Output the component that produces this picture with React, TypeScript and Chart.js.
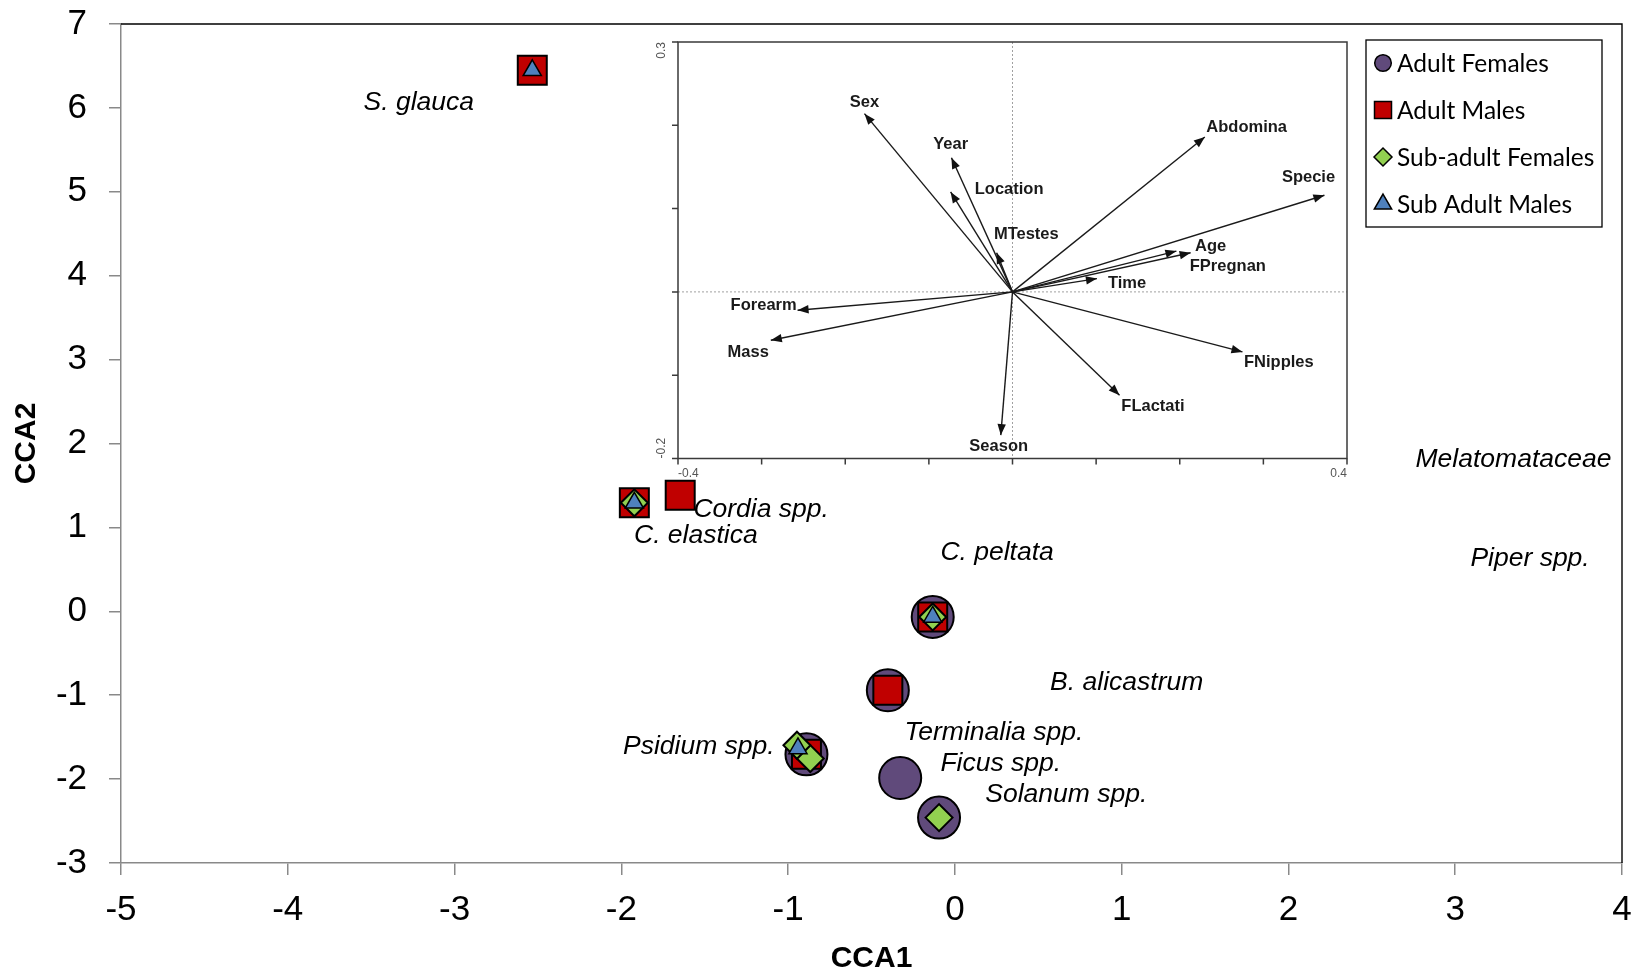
import React, { useEffect, useRef } from 'react';
import { Chart, registerables } from 'chart.js';

Chart.register(...registerables);

const FONT = "'Liberation Sans', Arial, Helvetica, sans-serif";

// ---------- main CCA ordination data ----------
const xTicks = [-5, -4, -3, -2, -1, 0, 1, 2, 3, 4];
const yTicks = [-3, -2, -1, 0, 1, 2, 3, 4, 5, 6, 7];

const seriesNames = ['Adult Females', 'Adult Males', 'Sub-adult Females', 'Sub Adult Males'];

const adultFemalesX = [-0.133, -0.402, -0.890, -0.328, -0.095];
const adultFemalesY = [-0.067, -0.941, -1.705, -1.987, -2.459];

const adultMalesX = [-2.534, -1.922, -1.647, -0.133, -0.402, -0.890];
const adultMalesY = [6.448, 1.293, 1.384, -0.067, -0.941, -1.705];

const subAdultFemalesX = [-1.922, -0.133, -0.867, -0.947, -0.095];
const subAdultFemalesY = [1.293, -0.067, -1.755, -1.597, -2.459];

const subAdultMalesX = [-2.534, -1.922, -0.133, -0.941];
const subAdultMalesY = [6.448, 1.293, -0.067, -1.635];

const speciesNames = [
  'S. glauca', 'Cordia spp.', 'C. elastica', 'C. peltata', 'Melatomataceae', 'Piper spp.',
  'B. alicastrum', 'Terminalia spp.', 'Psidium spp.', 'Ficus spp.', 'Solanum spp.',
];
const speciesLabelX = [-3.546, -1.568, -1.924, -0.087, 2.762, 3.091, 0.571, -0.302, -1.990, -0.087, 0.182];
const speciesLabelY = [6.060, 1.217, 0.907, 0.705, 1.807, 0.633, -0.845, -1.442, -1.608, -1.811, -2.181];

// ---------- inset biplot data ----------
const envVars = ['Sex', 'Year', 'Location', 'MTestes', 'Abdomina', 'Specie', 'Age', 'FPregnan', 'Time', 'Forearm', 'Mass', 'FNipples', 'FLactati', 'Season'];
const envArrowX = [-0.177, -0.073, -0.074, -0.019, 0.230, 0.373, 0.196, 0.213, 0.101, -0.257, -0.289, 0.275, 0.128, -0.014];
const envArrowY = [0.214, 0.161, 0.120, 0.047, 0.186, 0.116, 0.049, 0.047, 0.016, -0.022, -0.058, -0.072, -0.124, -0.172];
const envLabelX = [-0.177, -0.074, -0.004, 0.0165, 0.280, 0.354, 0.237, 0.2575, 0.137, -0.2976, -0.316, 0.3185, 0.168, -0.0165];
const envLabelY = [0.228, 0.177, 0.123, 0.069, 0.198, 0.137, 0.054, 0.031, 0.010, -0.016, -0.073, -0.085, -0.137, -0.186];

const insetXTicks = [-0.4, -0.3, -0.2, -0.1, 0, 0.1, 0.2, 0.3, 0.4];
const insetYTicks = [-0.2, -0.1, 0, 0.1, 0.2, 0.3];
const insetXLabelTicks = [-0.4, 0.4];
const insetYLabelTicks = [-0.2, 0.3];

const pts = (xs: number[], ys: number[]) => xs.map((x, i) => ({ x, y: ys[i] }));

function drawMarker(ctx: CanvasRenderingContext2D, style: string, x: number, y: number, r: number) {
  ctx.beginPath();
  if (style === 'circle') {
    ctx.arc(x, y, r, 0, Math.PI * 2);
  } else if (style === 'rect') {
    ctx.rect(x - r, y - r, 2 * r, 2 * r);
  } else if (style === 'rectRot') {
    ctx.moveTo(x - r, y);
    ctx.lineTo(x, y - r);
    ctx.lineTo(x + r, y);
    ctx.lineTo(x, y + r);
  } else {
    ctx.moveTo(x, y - r);
    ctx.lineTo(x + r * 0.866, y + r * 0.5);
    ctx.lineTo(x - r * 0.866, y + r * 0.5);
  }
  ctx.closePath();
  ctx.fill();
  ctx.stroke();
}

const framePlugin = {
  id: 'frame',
  beforeDatasetsDraw(chart: any) {
    const { ctx, chartArea: a } = chart;
    ctx.save();
    ctx.strokeStyle = '#000';
    ctx.lineWidth = 1.4;
    ctx.beginPath();
    ctx.moveTo(a.left, a.top);
    ctx.lineTo(a.right, a.top);
    ctx.lineTo(a.right, a.bottom);
    ctx.stroke();
    ctx.restore();
  },
};

const speciesPlugin = {
  id: 'species',
  afterDatasetsDraw(chart: any) {
    const { ctx, scales } = chart;
    ctx.save();
    ctx.font = `italic 26.5px ${FONT}`;
    ctx.fillStyle = '#000';
    ctx.textAlign = 'left';
    ctx.textBaseline = 'middle';
    speciesNames.forEach((n, i) => {
      ctx.fillText(n, scales.x.getPixelForValue(speciesLabelX[i]), scales.y.getPixelForValue(speciesLabelY[i]));
    });
    ctx.restore();
  },
};

const legendMarkerSize: Record<string, number> = { circle: 8.3, rect: 8.5, rectRot: 9, triangle: 10 };

const boxLegendPlugin = {
  id: 'boxLegend',
  afterDraw(chart: any) {
    const { ctx } = chart;
    const left = 1366, top = 40, right = 1602, bottom = 227;
    ctx.save();
    ctx.fillStyle = '#fff';
    ctx.fillRect(left, top, right - left, bottom - top);
    ctx.strokeStyle = '#000';
    ctx.lineWidth = 1.3;
    ctx.strokeRect(left, top, right - left, bottom - top);
    chart.data.datasets.forEach((ds: any, i: number) => {
      const cy = 63 + i * 47;
      ctx.fillStyle = ds.backgroundColor;
      ctx.strokeStyle = '#000';
      ctx.lineWidth = 1.5;
      drawMarker(ctx, ds.pointStyle, 1383, cy, legendMarkerSize[ds.pointStyle]);
      ctx.fillStyle = '#000';
      ctx.font = `24.5px Lato, 'Open Sans', sans-serif`;
      ctx.textAlign = 'left';
      ctx.textBaseline = 'middle';
      ctx.fillText(ds.label, 1397, cy + 1);
    });
    ctx.restore();
  },
};

const insetPlugin = {
  id: 'insetDecor',
  beforeDatasetsDraw(chart: any) {
    const { ctx, chartArea: a, scales } = chart;
    const x0 = scales.x.getPixelForValue(0);
    const y0 = scales.y.getPixelForValue(0);
    ctx.save();
    ctx.strokeStyle = '#a0a0a0';
    ctx.lineWidth = 1;
    ctx.setLineDash([2, 2]);
    ctx.beginPath();
    ctx.moveTo(a.left, y0);
    ctx.lineTo(a.right, y0);
    ctx.moveTo(x0, a.top);
    ctx.lineTo(x0, a.bottom);
    ctx.stroke();
    ctx.setLineDash([]);
    ctx.strokeStyle = '#3a3a3a';
    ctx.lineWidth = 1.5;
    ctx.strokeRect(a.left, a.top, a.right - a.left, a.bottom - a.top);
    ctx.beginPath();
    insetXTicks.forEach((v) => {
      const px = scales.x.getPixelForValue(v);
      ctx.moveTo(px, a.bottom);
      ctx.lineTo(px, a.bottom + 6);
    });
    insetYTicks.forEach((v) => {
      const py = scales.y.getPixelForValue(v);
      ctx.moveTo(a.left - 6, py);
      ctx.lineTo(a.left, py);
    });
    ctx.stroke();
    ctx.fillStyle = '#555';
    ctx.font = `12px ${FONT}`;
    ctx.textBaseline = 'middle';
    insetXLabelTicks.forEach((v, i) => {
      ctx.textAlign = i === 0 ? 'left' : 'right';
      ctx.fillText(v.toFixed(1), scales.x.getPixelForValue(v), a.bottom + 15);
    });
    insetYLabelTicks.forEach((v, i) => {
      ctx.save();
      ctx.translate(a.left - 16, scales.y.getPixelForValue(v));
      ctx.rotate(-Math.PI / 2);
      ctx.textAlign = i === 0 ? 'left' : 'right';
      ctx.fillText(v.toFixed(1), 0, 0);
      ctx.restore();
    });
    ctx.restore();
  },
  afterDatasetsDraw(chart: any) {
    const { ctx, scales } = chart;
    const ox = scales.x.getPixelForValue(0);
    const oy = scales.y.getPixelForValue(0);
    ctx.save();
    ctx.fillStyle = '#111';
    envVars.forEach((_, i) => {
      const px = scales.x.getPixelForValue(envArrowX[i]);
      const py = scales.y.getPixelForValue(envArrowY[i]);
      const ang = Math.atan2(py - oy, px - ox);
      const L = 11, W = 4.2;
      const bx = px - Math.cos(ang) * L;
      const by = py - Math.sin(ang) * L;
      ctx.beginPath();
      ctx.moveTo(px, py);
      ctx.lineTo(bx - Math.sin(ang) * W, by + Math.cos(ang) * W);
      ctx.lineTo(bx + Math.sin(ang) * W, by - Math.cos(ang) * W);
      ctx.closePath();
      ctx.fill();
    });
    ctx.font = `bold 16.5px ${FONT}`;
    ctx.fillStyle = '#1a1a1a';
    ctx.textAlign = 'center';
    ctx.textBaseline = 'middle';
    envVars.forEach((n, i) => {
      ctx.fillText(n, scales.x.getPixelForValue(envLabelX[i]), scales.y.getPixelForValue(envLabelY[i]));
    });
    ctx.restore();
  },
};

export default function App() {
  const mainRef = useRef<HTMLCanvasElement>(null);
  const insetRef = useRef<HTMLCanvasElement>(null);

  useEffect(() => {
    const axisCommon = (ticks: number[]) => ({
      type: 'linear' as const,
      afterBuildTicks: (s: any) => {
        s.ticks = ticks.map((v) => ({ value: v }));
      },
      grid: { drawOnChartArea: false, drawTicks: true, tickLength: 12, color: '#898989', lineWidth: 1.5 },
      border: { display: true, color: '#898989', width: 1.5 },
    });
    const tickFont = { family: FONT, size: 35 };

    const main = new Chart(mainRef.current as HTMLCanvasElement, {
      type: 'scatter',
      data: {
        datasets: [
          {
            label: seriesNames[0], data: pts(adultFemalesX, adultFemalesY), pointStyle: 'circle', pointRadius: 21,
            backgroundColor: '#604a7b', borderColor: '#000', borderWidth: 2, order: 4,
          },
          {
            label: seriesNames[1], data: pts(adultMalesX, adultMalesY), pointStyle: 'rect', pointRadius: 20.5,
            backgroundColor: '#c00000', borderColor: '#000', borderWidth: 2, order: 3,
          },
          {
            label: seriesNames[2], data: pts(subAdultFemalesX, subAdultFemalesY), pointStyle: 'rectRot', pointRadius: 13.5,
            backgroundColor: '#92d050', borderColor: '#000', borderWidth: 2, order: 2,
          },
          {
            label: seriesNames[3], data: pts(subAdultMalesX, subAdultMalesY), pointStyle: 'triangle', pointRadius: 10.5,
            backgroundColor: '#4f81bd', borderColor: '#000', borderWidth: 1.5, order: 1,
          },
        ] as any,
      },
      options: {
        animation: false,
        responsive: true,
        maintainAspectRatio: false,
        events: [],
        layout: { padding: { top: 24, right: 18, left: 0, bottom: 0 } },
        plugins: { legend: { display: false }, tooltip: { enabled: false } },
        scales: {
          x: {
            ...axisCommon(xTicks),
            min: -5,
            max: 4,
            ticks: { font: tickFont, color: '#000', autoSkip: false, maxRotation: 0, padding: 14 },
            title: {
              display: true, text: 'CCA1', color: '#000',
              font: { family: FONT, size: 30, weight: 'bold', lineHeight: 1 },
              padding: { top: 0, bottom: 0 },
            },
            afterFit: (s: any) => {
              s.height = 111;
              s.paddingLeft = 0;
              s.paddingRight = 0;
            },
          },
          y: {
            ...axisCommon(yTicks),
            min: -3,
            max: 7,
            ticks: { font: tickFont, color: '#000', autoSkip: false, padding: 22 },
            title: {
              display: true, text: 'CCA2', color: '#000',
              font: { family: FONT, size: 30, weight: 'bold', lineHeight: 1 },
              padding: { top: 12, bottom: 0 },
            },
            afterFit: (s: any) => {
              s.width = 121;
              s.paddingTop = 0;
              s.paddingBottom = 0;
            },
          },
        } as any,
      },
      plugins: [framePlugin, speciesPlugin, boxLegendPlugin],
    });

    const inset = new Chart(insetRef.current as HTMLCanvasElement, {
      type: 'scatter',
      data: {
        datasets: envVars.map((name, i) => ({
          label: name,
          data: [{ x: 0, y: 0 }, { x: envArrowX[i], y: envArrowY[i] }],
          showLine: true,
          pointRadius: 0,
          borderColor: '#1a1a1a',
          borderWidth: 1.4,
        })) as any,
      },
      options: {
        animation: false,
        responsive: true,
        maintainAspectRatio: false,
        events: [],
        layout: { padding: { left: 38, top: 12, right: 13, bottom: 31.5 } },
        plugins: { legend: { display: false }, tooltip: { enabled: false } },
        scales: {
          x: { type: 'linear', min: -0.4, max: 0.4, display: false },
          y: { type: 'linear', min: -0.2, max: 0.3, display: false },
        },
      },
      plugins: [insetPlugin],
    });

    return () => {
      main.destroy();
      inset.destroy();
    };
  }, []);

  return (
    <div style={{ position: 'absolute', left: 0, top: 0, width: 1645, height: 974, background: '#fff' }}>
      <div style={{ position: 'absolute', left: 0, top: 0, width: 1645, height: 974 }}>
        <canvas ref={mainRef} />
      </div>
      <div style={{ position: 'absolute', left: 640, top: 30, width: 720, height: 460 }}>
        <canvas ref={insetRef} />
      </div>
    </div>
  );
}
